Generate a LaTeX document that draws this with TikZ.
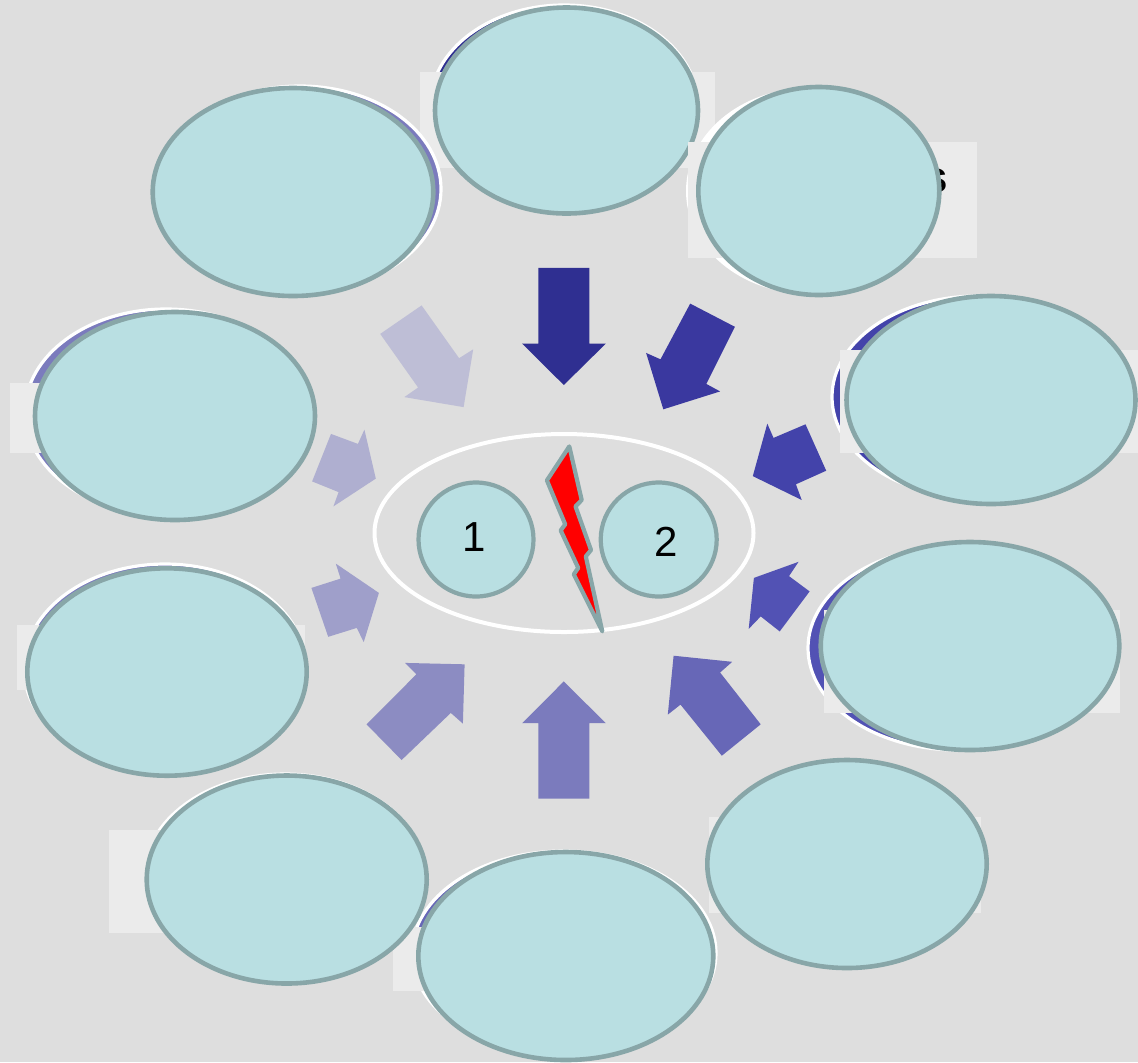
\documentclass[tikz,border=0pt]{standalone}
\usepackage{fontspec}
\setmainfont{Liberation Sans}
\usetikzlibrary{shapes.geometric}
\definecolor{bg}{HTML}{DEDEDE}
\definecolor{platec}{HTML}{EBEBEB}
\definecolor{cyanf}{HTML}{B9DFE2}
\definecolor{rim}{HTML}{88A6A8}
\definecolor{aA}{HTML}{2F2F91}
\definecolor{aB}{HTML}{3A389F}
\definecolor{aC}{HTML}{4343AA}
\definecolor{aD}{HTML}{5252B4}
\definecolor{aE}{HTML}{6767B7}
\definecolor{aF}{HTML}{7B7BBD}
\definecolor{aG}{HTML}{8C8CC2}
\definecolor{aH}{HTML}{9F9FCA}
\definecolor{aI}{HTML}{AFAFD0}
\definecolor{aJ}{HTML}{BEBED6}
\begin{document}
\begin{tikzpicture}[x=0.5pt,y=-0.5pt,
  bubble/.style={ellipse, draw=rim, fill=cyanf, line width=2.3pt, inner sep=0pt, outer sep=0pt},
  halo/.style={draw=white, line width=1.6pt},
  plate/.style={fill=platec},
  digit/.style={inner sep=0pt, font=\fontsize{21}{21}\selectfont},
]
\fill[bg] (0,0) rectangle (1138,1062);
\useasboundingbox (0,0) rectangle (1138,1062);

% top
\filldraw[halo, fill=aA] (564,106) ellipse [x radius=134, y radius=101];
\fill[plate] (420,72) rectangle (715,168);
\node[bubble, minimum width=131.5pt, minimum height=103pt] (top) at (566.5,110.5) {};

% top-right
\fill[white] (809,191) ellipse [x radius=123, y radius=103];
\fill[plate] (688,142) rectangle (977,258);
\node[inner sep=0pt, font=\bfseries\fontsize{22}{22}\selectfont] (stxt) at (936,181) {s};
\node[bubble, minimum width=120.5pt, minimum height=104pt] (topright) at (818.8,191) {};

% right-upper
\filldraw[halo, fill=aC] (978,397) ellipse [x radius=146, y radius=101];
\fill[plate] (840,350) rectangle (1138,453);
\node[bubble, minimum width=144.5pt, minimum height=104pt] (rightup) at (991,400) {};

% right-lower
\filldraw[halo, fill=aD] (958,648) ellipse [x radius=150, y radius=102];
\fill[plate] (824,610) rectangle (1120,713);
\node[bubble, minimum width=149.3pt, minimum height=104pt] (rightlow) at (970,646) {};

% bottom-right
\fill[plate] (709,817) rectangle (981,913);
\node[bubble, minimum width=139.7pt, minimum height=104pt] (botright) at (847,864) {};

% bottom
\filldraw[halo, fill=aE] (564,953) ellipse [x radius=152, y radius=102];
\fill[plate] (393,927) rectangle (700,991);
\node[bubble, minimum width=147.5pt, minimum height=104pt] (bottom) at (565.8,956) {};

% bottom-left
\filldraw[halo, fill=aG] (285,877) ellipse [x radius=141, y radius=103];
\fill[plate] (109,830) rectangle (300,933);
\node[bubble, minimum width=140pt, minimum height=104pt] (botleft) at (286.7,879.5) {};

% left-lower
\filldraw[halo, fill=aF] (165,668) ellipse [x radius=141, y radius=104];
\fill[plate] (17,625) rectangle (305,690);
\node[bubble, minimum width=139.7pt, minimum height=103.7pt] (leftlow) at (167,672) {};

% left-upper
\filldraw[halo, fill=aF] (166,412) ellipse [x radius=141, y radius=103];
\fill[plate] (10,383) rectangle (300,453);
\node[bubble, minimum width=140pt, minimum height=104pt] (leftup) at (175,416) {};

% top-left
\filldraw[halo, fill=aF] (300,189) ellipse [x radius=141, y radius=103];
\node[bubble, minimum width=140.3pt, minimum height=104pt] (topleft) at (293,192) {};

% block arrows
\fill[aA] (538.3,267.9) -- (589.3,267.9) -- (589.3,343.6) -- (605.8,343.6) -- (563.8,385) -- (522.1,343.6) -- (538.3,343.6) -- cycle;
\fill[aB] (690.2,303.6) -- (734.9,326.8) -- (706.3,383.9) -- (720.1,391.4) -- (663.3,409.3) -- (646.1,352.9) -- (660.5,359.3) -- cycle;
\fill[aC] (805.5,424.3) -- (826.2,470.7) -- (795.9,484.3) -- (801.7,500) -- (752.8,476.1) -- (767.3,423.6) -- (773.5,437.9) -- cycle;
\fill[aD] (809.6,591.4) -- (779.7,631.4) -- (760.7,616.4) -- (748.7,628.9) -- (753.9,577.9) -- (798.6,561.8) -- (789,576.1) -- cycle;
\fill[aE] (760.7,724.3) -- (721.8,755.7) -- (680.5,704.6) -- (667.8,714.6) -- (673.6,655.7) -- (732.2,661.8) -- (720.1,672.5) -- cycle;
\fill[aF] (538.3,798.6) -- (589.3,798.6) -- (589.3,723.2) -- (605.8,723.2) -- (563.8,681.4) -- (522.1,723.2) -- (538.3,723.2) -- cycle;
\fill[aG] (401.6,760) -- (366.5,724.3) -- (416.4,674.3) -- (405,662.9) -- (464.6,664.3) -- (462.9,723.6) -- (450.8,712.9) -- cycle;
\fill[aH] (311.4,587.9) -- (328.2,636.8) -- (356.8,627.9) -- (363.7,642.1) -- (378.9,592.9) -- (335.8,563.6) -- (340.6,578.6) -- cycle;
\fill[aI] (331,433.9) -- (357.9,443.9) -- (364.4,429.6) -- (375.8,478.6) -- (333.4,506.4) -- (338.6,492.1) -- (312.1,481.4) -- cycle;
\fill[aJ] (380.2,333.9) -- (421.6,305.4) -- (459.1,358.2) -- (473.2,349.3) -- (463.6,407.1) -- (404.3,397.1) -- (418.1,387.5) -- cycle;

% centre
\node[ellipse, draw=white, line width=2pt, inner sep=0pt, minimum width=189.5pt, minimum height=99pt] (core) at (564,533) {};
\node[bubble, line width=2.1pt, minimum width=57.5pt, minimum height=57pt] (c1) at (476,539.5) {};
\node[bubble, line width=2.1pt, minimum width=58pt, minimum height=57pt] (c2) at (658.7,539.5) {};
\node[digit] (n1) at (474,537) {1};
\node[digit] (n2) at (666.5,541.5) {2};
\filldraw[fill=red, draw=rim, line width=2.1pt, line join=round]
  (569.3,446.4) -- (581.7,500) -- (575.5,506.4) -- (591,550) -- (585.8,556.4) -- (602.3,631.4)
  -- (573.8,574.3) -- (578.2,567.9) -- (560.7,530.4) -- (565.2,524.3) -- (546.9,480.4) -- cycle;
\end{tikzpicture}
\end{document}
